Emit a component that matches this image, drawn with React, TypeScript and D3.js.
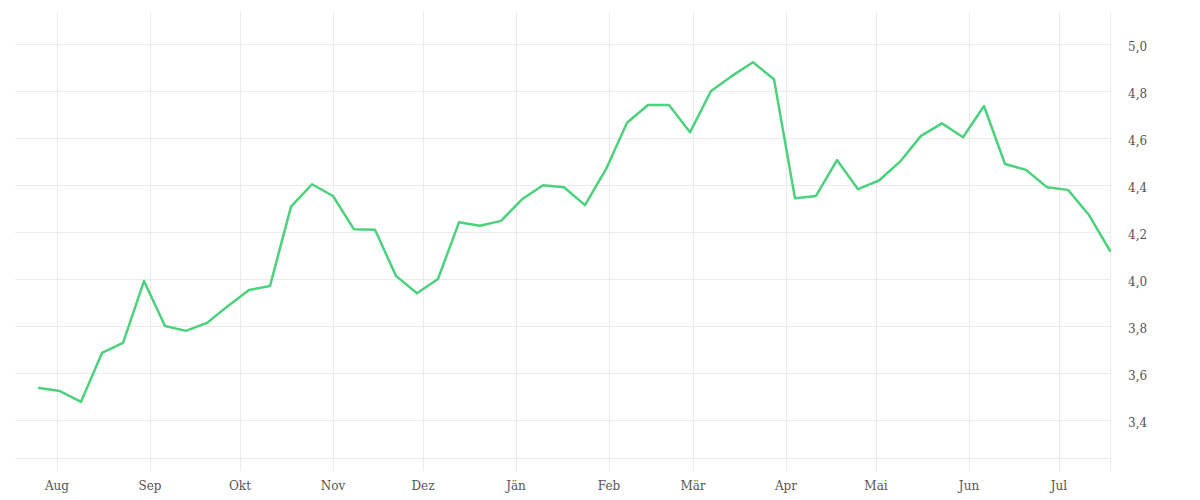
import React from "react";
import * as d3 from "d3";

const startDate = "2022-07-26";
const values: number[] = [
  3.536, 3.523, 3.477, 3.685, 3.728, 3.991, 3.8, 3.779, 3.813, 3.885,
  3.953, 3.97, 4.308, 4.403, 4.353, 4.211, 4.209, 4.013, 3.939, 4.0,
  4.241, 4.226, 4.247, 4.339, 4.399, 4.39, 4.314, 4.467, 4.665, 4.74,
  4.74, 4.624, 4.8, 4.864, 4.922, 4.85, 4.343, 4.353, 4.506, 4.382,
  4.419, 4.499, 4.609, 4.662, 4.603, 4.736, 4.489, 4.464, 4.39, 4.379,
  4.272, 4.12,
];
const monthLabels = ["Aug", "Sep", "Okt", "Nov", "Dez", "Jän", "Feb", "Mär", "Apr", "Mai", "Jun", "Jul"];
const yTicks = [3.4, 3.6, 3.8, 4.0, 4.2, 4.4, 4.6, 4.8, 5.0];

export default function App() {
  const W = 1200, H = 500;
  const left = 15, right = 1110, top = 12, bottom = 458;
  const parse = d3.utcParse("%Y-%m-%d");
  const d0 = parse(startDate)!;
  const dates = values.map((_, i) => d3.utcDay.offset(d0, i * 7));
  const x = d3.scaleUtc()
    .domain([parse("2022-07-18")!, parse("2023-07-18")!])
    .range([left, right]);
  const y = d3.scaleLinear().domain([3.238, 5.136]).range([bottom, top]);
  const monthTicks = monthLabels.map((_, i) => d3.utcMonth.offset(parse("2022-08-01")!, i));
  const line = d3.line<number>()
    .x((_, i) => x(dates[i]))
    .y((v) => y(v));
  const fmt = (v: number) => v.toFixed(1).replace(".", ",");
  const grid = "#ebebeb";
  return (
    <svg width={W} height={H} style={{ position: "absolute", left: 0, top: 0, background: "#fff" }}>
      {yTicks.map((t) => (
        <line key={"h" + t} x1={left} x2={right} y1={Math.round(y(t)) + 0.5} y2={Math.round(y(t)) + 0.5} stroke={grid} strokeWidth={1} />
      ))}
      <line x1={left} x2={right} y1={bottom + 0.5} y2={bottom + 0.5} stroke={grid} strokeWidth={1} />
      {monthTicks.map((d, i) => (
        <line key={"v" + i} x1={Math.round(x(d)) + 0.5} x2={Math.round(x(d)) + 0.5} y1={top} y2={bottom + 13} stroke={grid} strokeWidth={1} />
      ))}
      <line x1={right + 0.5} x2={right + 0.5} y1={top} y2={bottom + 13} stroke={grid} strokeWidth={1} />
      <path d={line(values)!} fill="none" stroke="#4cd27d" strokeWidth={2.5} strokeLinejoin="round" strokeLinecap="round" />
      {monthTicks.map((d, i) => (
        <text key={"xl" + i} x={x(d)} y={490} textAnchor="middle" fontFamily="DejaVu Serif" fontSize={12} fill="#555">
          {monthLabels[i]}
        </text>
      ))}
      {yTicks.map((t) => (
        <text key={"yl" + t} x={1128} y={y(t) + 7} textAnchor="start" fontFamily="DejaVu Serif" fontSize={12} fill="#555">
          {fmt(t)}
        </text>
      ))}
    </svg>
  );
}
